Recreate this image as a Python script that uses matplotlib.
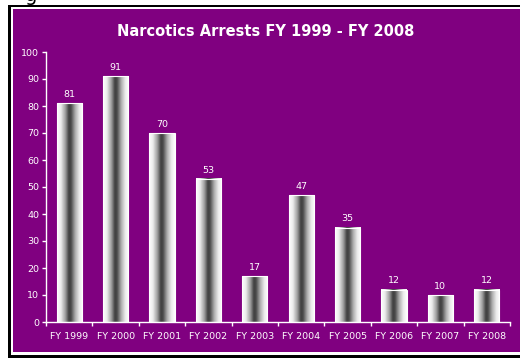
import matplotlib
matplotlib.use("Agg")
import matplotlib.pyplot as plt
import numpy as np
from matplotlib.colors import LinearSegmentedColormap
from matplotlib.patches import Rectangle

years = ["FY 1999", "FY 2000", "FY 2001", "FY 2002", "FY 2003",
         "FY 2004", "FY 2005", "FY 2006", "FY 2007", "FY 2008"]
arrests = [81, 91, 70, 53, 17, 47, 35, 12, 10, 12]
yticks = [0, 10, 20, 30, 40, 50, 60, 70, 80, 90, 100]
title = "Narcotics Arrests FY 1999 - FY 2008"

purple = "#800080"
plt.rcParams["font.family"] = ["DejaVu Sans"]

W, H = 520, 358
fig = plt.figure(figsize=(5.2, 3.58), dpi=100)
fig.patch.set_facecolor(purple)


def px_rect(x0, y0, x1, y1, color):
    # rectangle given in pixels from the top-left corner
    fig.patches.append(Rectangle((x0 / W, 1 - y1 / H), (x1 - x0) / W, (y1 - y0) / H,
                                 transform=fig.transFigure, facecolor=color,
                                 edgecolor="none", zorder=-1))


# white page round the box, black border, thin white gap (box runs off the right edge)
px_rect(0, 0, 8, H, "white")
px_rect(0, 0, W, 5, "white")
px_rect(8, 5, 11, H, "black")
px_rect(8, 5, W, 7, "black")
px_rect(8, 355, W, H, "black")
px_rect(11, 7, 13, 355, "white")
px_rect(11, 7, W, 9, "white")
px_rect(11, 352, W, 355, "white")

# descender of a caption that sits above the picture
fig.text(31 / W, 1 + 4 / H, "g", fontsize=14, color="black", ha="center", va="center")

ax = fig.add_axes([46 / W, 1 - 322 / H, 464 / W, 270 / H])
ax.set_facecolor(purple)
ax.patch.set_alpha(0)

cmap = LinearSegmentedColormap.from_list("cyl", [
    (0.0, "#ffffff"), (0.15, "#ececec"), (0.32, "#a0a0a0"), (0.46, "#404040"),
    (0.54, "#4a4a4a"), (0.7, "#acacac"), (0.86, "#ebebeb"), (1.0, "#ffffff")])
grad = np.linspace(0, 1, 256).reshape(1, -1)

w = 0.54
x = np.arange(len(years))
for xi, v in zip(x, arrests):
    ax.imshow(grad, cmap=cmap, aspect="auto", extent=[xi - w / 2, xi + w / 2, 0, v],
              interpolation="bilinear", zorder=2)
    ax.add_patch(Rectangle((xi - w / 2, 0), w, v, facecolor="none",
                           edgecolor="white", linewidth=0.8, zorder=3))
    ax.text(xi, v + 1.6, str(v), ha="center", va="bottom", fontsize=6.8,
            color="white", zorder=4)

ax.set_xlim(-0.5, len(years) - 0.5)
ax.set_ylim(0, 100)
ax.set_yticks(yticks)
ax.set_xticks(x)
ax.set_xticklabels(years)
ax.set_xticks(np.arange(-0.5, len(years), 1), minor=True)
ax.tick_params(axis="x", which="major", length=0, pad=7, labelsize=6.8, colors="white")
ax.tick_params(axis="x", which="minor", length=3, width=1, color="white", direction="out")
ax.tick_params(axis="y", length=3, width=1, pad=2, labelsize=6.8, colors="white")
for s in ["top", "right"]:
    ax.spines[s].set_visible(False)
for s in ["left", "bottom"]:
    ax.spines[s].set_color("white")
    ax.spines[s].set_linewidth(1)

fig.text(266 / W, 1 - 32 / H, title, fontsize=10.5, fontweight="bold", color="white",
         ha="center", va="center")

fig.savefig("out.png", dpi=100, facecolor=fig.get_facecolor())
